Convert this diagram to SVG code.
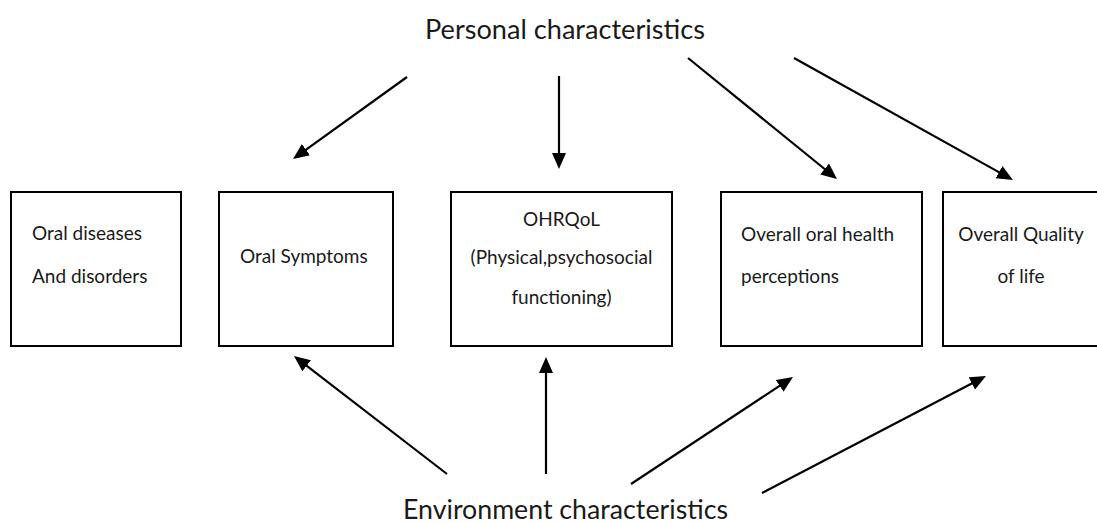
<svg xmlns="http://www.w3.org/2000/svg" width="1097" height="523" viewBox="0 0 1097 523">
<style>
.box{fill:#fff;stroke:#000;stroke-width:2}
.t{font-family:Lato,"Liberation Sans",sans-serif;font-size:19px;fill:#1a1a1a}
.big{font-family:Lato,"Liberation Sans",sans-serif;font-size:26px;fill:#1a1a1a}
.c{text-anchor:middle}
.arr{stroke:#000;stroke-width:2.2;fill:none;marker-end:url(#ah)}
</style>
<defs>
<marker id="ah" markerUnits="userSpaceOnUse" markerWidth="17" markerHeight="15" refX="8" refY="7" orient="auto">
<path d="M0,0 L16,7 L0,14 z" fill="#000"/>
</marker>
</defs>
<rect width="1097" height="523" fill="#fff"/>
<g id="personal"><text class="big" x="425" y="39" textLength="280" lengthAdjust="spacingAndGlyphs">Personal characteristics</text></g>
<g id="environment"><text class="big" x="403" y="519" textLength="325" lengthAdjust="spacingAndGlyphs">Environment characteristics</text></g>
<g id="n1"><rect class="box" x="11" y="192" width="170" height="154"/>
<text class="t" x="32" y="240">Oral diseases</text><text class="t" x="32" y="283">And disorders</text></g>
<g id="n2"><rect class="box" x="219" y="192" width="174" height="154"/>
<text class="t" x="240" y="263">Oral Symptoms</text></g>
<g id="n3"><rect class="box" x="451" y="192" width="221" height="154"/>
<text class="t c" x="561.5" y="226">OHRQoL</text><text class="t c" x="561.5" y="264">(Physical,psychosocial</text><text class="t c" x="561.5" y="304">functioning)</text></g>
<g id="n4"><rect class="box" x="721" y="192" width="201" height="154"/>
<text class="t" x="741" y="241">Overall oral health</text><text class="t" x="741" y="283">perceptions</text></g>
<g id="n5"><rect class="box" x="943" y="192" width="160" height="154"/>
<text class="t c" x="1021" y="241">Overall Quality</text><text class="t c" x="1021" y="283">of life</text></g>
<g id="connectors">
<line class="arr" x1="407" y1="77" x2="299.5" y2="154.3"/>
<line class="arr" x1="559" y1="76" x2="559" y2="161"/>
<line class="arr" x1="688" y1="58" x2="830.8" y2="174"/>
<line class="arr" x1="794" y1="58" x2="1006" y2="176.1"/>
<line class="arr" x1="447" y1="474" x2="300.3" y2="360.9"/>
<line class="arr" x1="546" y1="474" x2="546" y2="365"/>
<line class="arr" x1="631" y1="484" x2="786.3" y2="381.4"/>
<line class="arr" x1="762" y1="493" x2="978.9" y2="379.7"/>
</g>
</svg>
